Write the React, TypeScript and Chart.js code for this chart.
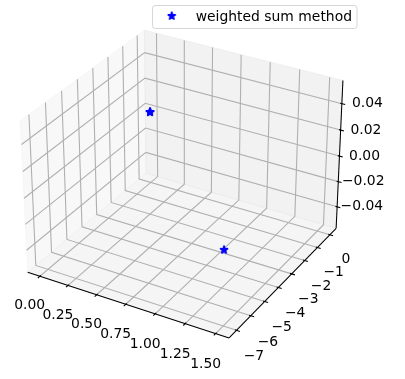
import React, { useEffect, useRef } from "react";
import { Chart, registerables } from "chart.js";
Chart.register(...registerables);

const W = 405;
const H = 379;

// ---- data ----
const seriesLabel = "weighted sum method";
const f1Values = [0, 0, 0, 1.5];
const f2Values = [0, 0, 0, -7];
const f3Values = [0, 0, 0, 0];

const xTicks = [0, 0.25, 0.5, 0.75, 1.0, 1.25, 1.5];
const xTickLabels = ["0.00", "0.25", "0.50", "0.75", "1.00", "1.25", "1.50"];
const yTicks = [0, -1, -2, -3, -4, -5, -6, -7];
const yTickLabels = ["0", "\u22121", "\u22122", "\u22123", "\u22124", "\u22125", "\u22126", "\u22127"];
const zTicks = [-0.04, -0.02, 0, 0.02, 0.04];
const zTickLabels = ["\u22120.04", "\u22120.02", "0.00", "0.02", "0.04"];

// ---- 3D view (matplotlib-like) ----
function autoLimits(vals: number[]): [number, number] {
  let lo = Math.min(...vals);
  let hi = Math.max(...vals);
  if (hi - lo < 1e-12) {
    if (lo === 0) {
      lo = -0.05;
      hi = 0.05;
    } else {
      lo -= Math.abs(lo) * 0.05;
      hi += Math.abs(hi) * 0.05;
    }
  }
  const m = (hi - lo) * 0.05;
  return [lo - m, hi + m];
}
const limX = autoLimits(f1Values);
const limY = autoLimits(f2Values);
const limZ = autoLimits(f3Values);
const LIMS = [limX, limY, limZ];

const ELEV = (30 * Math.PI) / 180;
const AZIM = (-60 * Math.PI) / 180;
const DIST = 10;
const aspNorm = Math.hypot(4, 4, 3);
const ASPECT = [4, 4, 3].map((a) => (a * 1.8294640721620434) / aspNorm);

const wv = [Math.cos(ELEV) * Math.cos(AZIM), Math.cos(ELEV) * Math.sin(AZIM), Math.sin(ELEV)];
const cross = (a: number[], b: number[]) => [
  a[1] * b[2] - a[2] * b[1],
  a[2] * b[0] - a[0] * b[2],
  a[0] * b[1] - a[1] * b[0],
];
const uRaw = cross([0, 0, 1], wv);
const uLen = Math.hypot(uRaw[0], uRaw[1], uRaw[2]);
const uv = uRaw.map((c) => c / uLen);
const vv = cross(wv, uv);
const dot = (a: number[], b: number[]) => a[0] * b[0] + a[1] * b[1] + a[2] * b[2];

const SCALE = 369.6 / 0.185;
const OFFX = -5.6;
const OFFY = -3.5;

function project(x: number, y: number, z: number): [number, number] {
  const p = [x, y, z];
  const Q = p.map((val, i) => ((val - LIMS[i][0]) / (LIMS[i][1] - LIMS[i][0]) - 0.5) * ASPECT[i]);
  const X = dot(uv, Q);
  const Y = dot(vv, Q);
  const Z = dot(wv, Q);
  const d = DIST - Z;
  return [OFFX + (X / d + 0.095) * SCALE, OFFY + (0.09 - Y / d) * SCALE];
}

function paneLims(l: [number, number]): [number, number] {
  const e = (l[1] - l[0]) / 48;
  return [l[0] - e, l[1] + e];
}

function makeStar(color: string): HTMLCanvasElement {
  const c = document.createElement("canvas");
  c.width = 14;
  c.height = 14;
  const g = c.getContext("2d")!;
  const R = 8.33 / 2;
  const r = R * 0.381966;
  const cx = 7;
  const cy = 7;
  g.beginPath();
  for (let i = 0; i < 10; i++) {
    const a = Math.PI / 2 + (i * Math.PI) / 5;
    const rr = i % 2 === 0 ? R : r;
    const px = cx + rr * Math.cos(a);
    const py = cy - rr * Math.sin(a);
    if (i === 0) g.moveTo(px, py);
    else g.lineTo(px, py);
  }
  g.closePath();
  g.fillStyle = color;
  g.fill();
  g.lineWidth = 1.39;
  g.lineJoin = "bevel";
  g.strokeStyle = color;
  g.stroke();
  return c;
}

const FONT = '13.9px "DejaVu Sans"';

const axes3dPlugin = {
  id: "axes3d",
  beforeDatasetsDraw(chart: any) {
    const ctx: CanvasRenderingContext2D = chart.ctx;
    const sx = chart.scales.x;
    const sy = chart.scales.y;
    const P = (x: number, y: number, z: number): [number, number] => {
      const [a, b] = project(x, y, z);
      return [sx.getPixelForValue(a), sy.getPixelForValue(b)];
    };
    const [x0, x1] = paneLims(limX);
    const [y0, y1] = paneLims(limY);
    const [z0, z1] = paneLims(limZ);
    const dx = (limX[1] - limX[0]) / 12;
    const dy = (limY[1] - limY[0]) / 12;
    const dz = (limZ[1] - limZ[0]) / 12;
    const LD = ((3.5 + 8) * 48) / 532.2;

    ctx.save();
    const poly = (pts: [number, number, number][], fill: string) => {
      ctx.beginPath();
      pts.forEach((p, i) => {
        const [a, b] = P(p[0], p[1], p[2]);
        if (i === 0) ctx.moveTo(a, b);
        else ctx.lineTo(a, b);
      });
      ctx.closePath();
      ctx.fillStyle = fill;
      ctx.fill();
      ctx.strokeStyle = fill;
      ctx.lineWidth = 1;
      ctx.stroke();
    };
    // panes
    poly([[x0, y0, z0], [x0, y1, z0], [x0, y1, z1], [x0, y0, z1]], "rgba(242,242,242,0.5)");
    poly([[x0, y1, z0], [x1, y1, z0], [x1, y1, z1], [x0, y1, z1]], "rgba(230,230,230,0.5)");
    poly([[x0, y0, z0], [x1, y0, z0], [x1, y1, z0], [x0, y1, z0]], "rgba(236,236,236,0.5)");

    const line = (pts: [number, number, number][], color: string, lw: number) => {
      ctx.beginPath();
      pts.forEach((p, i) => {
        const [a, b] = P(p[0], p[1], p[2]);
        if (i === 0) ctx.moveTo(a, b);
        else ctx.lineTo(a, b);
      });
      ctx.strokeStyle = color;
      ctx.lineWidth = lw;
      ctx.stroke();
    };
    // grid
    const GC = "#b0b0b0";
    const GW = 1.1;
    xTicks.forEach((t) => line([[t, y0, z0], [t, y1, z0], [t, y1, z1]], GC, GW));
    yTicks.forEach((t) => line([[x0, t, z1], [x0, t, z0], [x1, t, z0]], GC, GW));
    zTicks.forEach((t) => line([[x1, y1, t], [x0, y1, t], [x0, y0, t]], GC, GW));

    // axis lines
    line([[x0, y0, z0], [x1, y0, z0]], "#000", 1.04);
    line([[x1, y1, z0], [x1, y0, z0]], "#000", 1.04);
    line([[x1, y1, z0], [x1, y1, z1]], "#000", 1.04);

    // ticks
    xTicks.forEach((t) => line([[t, y0 + 0.1 * dy, z0], [t, y0 - 0.2 * dy, z0]], "#000", 1.1));
    yTicks.forEach((t) => line([[x1 - 0.1 * dx, t, z0], [x1 + 0.2 * dx, t, z0]], "#000", 1.1));
    zTicks.forEach((t) => line([[x1 - 0.1 * dx, y1, t], [x1 + 0.2 * dx, y1, t]], "#000", 1.1));

    // labels
    ctx.font = FONT;
    ctx.fillStyle = "#000";
    ctx.textAlign = "center";
    ctx.textBaseline = "alphabetic";
    xTicks.forEach((t, i) => {
      const [a, b] = P(t, y0 - LD * dy, z0 - LD * dz);
      ctx.fillText(xTickLabels[i], a, b + 12);
    });
    yTicks.forEach((t, i) => {
      const [a, b] = P(x1 + LD * dx, t, z0 - LD * dz);
      ctx.fillText(yTickLabels[i], a, b + 12);
    });
    zTicks.forEach((t, i) => {
      const [a, b] = P(x1 + LD * dx, y1 + LD * dy, t);
      ctx.fillText(zTickLabels[i], a, b + 7);
    });
    ctx.restore();
  },
  afterDatasetsDraw(chart: any) {
    const ctx: CanvasRenderingContext2D = chart.ctx;
    const ds = chart.data.datasets[0];
    ctx.save();
    const bx = 152.5;
    const by = 5.5;
    const bw = 204.5;
    const bh = 23;
    ctx.beginPath();
    (ctx as any).roundRect(bx, by, bw, bh, 2.8);
    ctx.fillStyle = "rgba(255,255,255,0.8)";
    ctx.fill();
    ctx.strokeStyle = "rgba(204,204,204,0.8)";
    ctx.lineWidth = 1;
    ctx.stroke();
    const img = ds.pointStyle as HTMLCanvasElement;
    ctx.drawImage(img, 171.7 - img.width / 2, 16 - img.height / 2);
    ctx.font = FONT;
    ctx.fillStyle = "#000";
    ctx.textAlign = "left";
    ctx.textBaseline = "alphabetic";
    ctx.fillText(String(ds.label), 195.7, 21);
    ctx.restore();
  },
};

export default function App() {
  const ref = useRef<HTMLCanvasElement | null>(null);
  useEffect(() => {
    const canvas = ref.current;
    if (!canvas) return;
    const star = makeStar("#0000ff");
    const points = f1Values.map((x, i) => {
      const [a, b] = project(x, f2Values[i], f3Values[i]);
      return { x: a, y: b };
    });
    const chart = new Chart(canvas, {
      type: "scatter",
      data: {
        datasets: [
          {
            label: seriesLabel,
            data: points,
            pointStyle: star as any,
            pointRadius: 5,
            backgroundColor: "#0000ff",
            borderColor: "#0000ff",
            showLine: false,
          },
        ],
      },
      options: {
        animation: false,
        responsive: false,
        maintainAspectRatio: false,
        events: [],
        layout: { padding: 0 },
        scales: {
          x: { type: "linear", display: false, min: 0, max: W },
          y: { type: "linear", display: false, min: 0, max: H, reverse: true },
        },
        plugins: { legend: { display: false }, tooltip: { enabled: false } },
      },
      plugins: [axes3dPlugin],
    });
    return () => chart.destroy();
  }, []);
  return (
    <div style={{ position: "absolute", left: 0, top: 0, width: W, height: H }}>
      <canvas ref={ref} width={W} height={H} style={{ display: "block" }} />
    </div>
  );
}
